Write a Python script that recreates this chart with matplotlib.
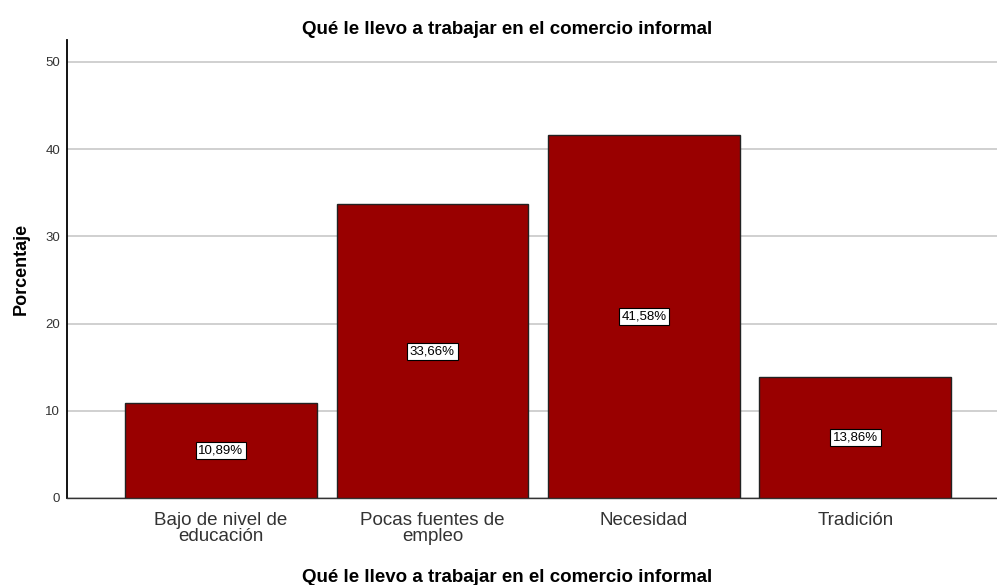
import matplotlib.pyplot as plt

plt.rcParams['font.family'] = ['Liberation Sans', 'DejaVu Sans']

categories = ['Bajo de nivel de\neducación', 'Pocas fuentes de\nempleo', 'Necesidad', 'Tradición']
values = [10.89, 33.66, 41.58, 13.86]
yticks = [0, 10, 20, 30, 40, 50]
title = 'Qué le llevo a trabajar en el comercio informal'

fig = plt.figure(figsize=(9.97, 5.85), dpi=100)
ax = fig.add_axes([67 / 997, 1 - 498 / 585, (997 - 67) / 997, (498 - 40) / 585])

x = list(range(len(categories)))
ax.bar(x, values, width=0.907, color='#990000', edgecolor='#222222', linewidth=1, zorder=3)

for xi, v in zip(x, values):
    ax.text(xi, v / 2, ('%.2f' % v).replace('.', ',') + '%', ha='center', va='center',
            fontsize=9.5, zorder=4,
            bbox=dict(boxstyle='square,pad=0.2', facecolor='white', edgecolor='black', linewidth=0.8))

ax.set_xlim(-0.728, 3.67)
ax.set_ylim(0, 52.5)
ax.set_yticks(yticks)
ax.yaxis.grid(True, color='#c8c8c8', linewidth=1.2, zorder=0)
ax.set_xticks(x)
ax.set_xticklabels(categories, fontsize=13.5, color='#333333', linespacing=0.95)
ax.tick_params(axis='x', length=0, pad=10)
ax.tick_params(axis='y', labelsize=9.5, length=0, pad=5, labelcolor='#333333')
for s in ['top', 'right']:
    ax.spines[s].set_visible(False)
ax.spines['left'].set_linewidth(1.3)
ax.spines['bottom'].set_linewidth(1.0)
ax.spines['bottom'].set_color('#333333')

ax.set_ylabel('Porcentaje', fontsize=13, fontweight='bold', labelpad=11)
fig.text(507 / 997, 1 - 29 / 585, title, ha='center', va='center', fontsize=13.5, fontweight='bold')
fig.text(507 / 997, 1 - 577 / 585, title, ha='center', va='center', fontsize=13.5, fontweight='bold')

fig.savefig('out.png', dpi=100)
